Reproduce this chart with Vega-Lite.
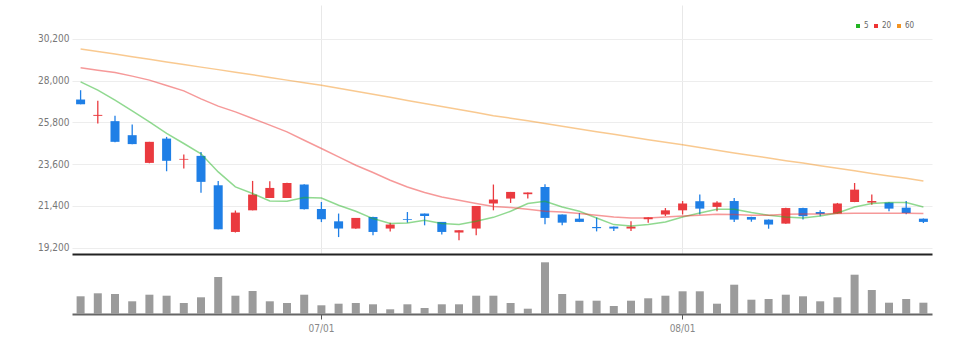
{
  "$schema": "https://vega.github.io/schema/vega-lite/v6.json",
  "padding": {"left": 0, "top": 5, "right": 5, "bottom": 5},
  "background": "white",
  "spacing": 4,
  "config": {"view": {"stroke": null}, "font": "Liberation Sans Narrow, DejaVu Sans Condensed, sans-serif"},
  "resolve": {"scale": {"y": "independent"}},
  "data": {"values": [
    {"d":"06/13","o":27010,"h":27500,"l":26760,"c":26760,"v":177000,"ma5":27942,"ma20":28681,"ma60":29667},
    {"d":"06/14","o":26150,"h":26940,"l":25750,"c":26200,"v":207000,"ma5":27504,"ma20":28559,"ma60":29535},
    {"d":"06/15","o":25870,"h":26150,"l":24760,"c":24780,"v":200000,"ma5":26977,"ma20":28438,"ma60":29404},
    {"d":"06/16","o":25130,"h":25700,"l":24650,"c":24660,"v":127000,"ma5":26412,"ma20":28243,"ma60":29261},
    {"d":"06/17","o":23670,"h":24780,"l":23650,"c":24780,"v":193000,"ma5":25832,"ma20":28032,"ma60":29129},
    {"d":"06/20","o":24950,"h":25040,"l":23230,"c":23780,"v":183000,"ma5":25220,"ma20":27752,"ma60":28992},
    {"d":"06/21","o":23840,"h":24110,"l":23370,"c":23880,"v":110000,"ma5":24692,"ma20":27467,"ma60":28855},
    {"d":"06/22","o":24040,"h":24250,"l":22100,"c":22670,"v":167000,"ma5":24150,"ma20":27045,"ma60":28718},
    {"d":"06/23","o":22490,"h":22720,"l":20170,"c":20170,"v":370000,"ma5":23194,"ma20":26660,"ma60":28586},
    {"d":"06/24","o":20030,"h":21160,"l":20000,"c":21050,"v":183000,"ma5":22403,"ma20":26359,"ma60":28449},
    {"d":"06/27","o":21170,"h":22720,"l":21170,"c":22000,"v":230000,"ma5":22054,"ma20":26011,"ma60":28317},
    {"d":"06/28","o":21820,"h":22700,"l":21820,"c":22350,"v":127000,"ma5":21664,"ma20":25658,"ma60":28169},
    {"d":"06/29","o":21820,"h":22620,"l":21820,"c":22610,"v":110000,"ma5":21648,"ma20":25304,"ma60":28032},
    {"d":"06/30","o":22530,"h":22540,"l":21220,"c":21230,"v":193000,"ma5":21843,"ma20":24866,"ma60":27900},
    {"d":"07/01","o":21240,"h":21610,"l":20550,"c":20700,"v":87000,"ma5":21822,"ma20":24428,"ma60":27768},
    {"d":"07/04","o":20590,"h":21000,"l":19760,"c":20210,"v":103000,"ma5":21437,"ma20":23985,"ma60":27599},
    {"d":"07/05","o":20210,"h":20770,"l":20200,"c":20770,"v":110000,"ma5":21120,"ma20":23547,"ma60":27441},
    {"d":"07/06","o":20820,"h":20830,"l":19850,"c":20030,"v":97000,"ma5":20735,"ma20":23162,"ma60":27283},
    {"d":"07/07","o":20210,"h":20520,"l":20060,"c":20420,"v":47000,"ma5":20471,"ma20":22756,"ma60":27124},
    {"d":"07/08","o":20710,"h":21080,"l":20520,"c":20670,"v":97000,"ma5":20503,"ma20":22403,"ma60":26961},
    {"d":"07/11","o":21000,"h":21000,"l":20380,"c":20870,"v":60000,"ma5":20645,"ma20":22107,"ma60":26802},
    {"d":"07/12","o":20560,"h":20560,"l":19900,"c":20030,"v":97000,"ma5":20471,"ma20":21875,"ma60":26644},
    {"d":"07/13","o":20000,"h":20120,"l":19590,"c":20120,"v":97000,"ma5":20418,"ma20":21700,"ma60":26486},
    {"d":"07/14","o":20210,"h":21400,"l":19850,"c":21400,"v":183000,"ma5":20593,"ma20":21526,"ma60":26322},
    {"d":"07/15","o":21530,"h":22530,"l":21170,"c":21740,"v":183000,"ma5":20800,"ma20":21370,"ma60":26159},
    {"d":"07/18","o":21790,"h":22140,"l":21560,"c":22140,"v":110000,"ma5":21120,"ma20":21315,"ma60":26027},
    {"d":"07/19","o":22020,"h":22110,"l":21790,"c":22110,"v":53000,"ma5":21526,"ma20":21226,"ma60":25890},
    {"d":"07/20","o":22400,"h":22550,"l":20430,"c":20770,"v":517000,"ma5":21648,"ma20":21120,"ma60":25747},
    {"d":"07/21","o":20950,"h":20950,"l":20380,"c":20520,"v":200000,"ma5":21346,"ma20":21083,"ma60":25600},
    {"d":"07/22","o":20730,"h":21030,"l":20550,"c":20560,"v":133000,"ma5":21120,"ma20":21000,"ma60":25457},
    {"d":"07/25","o":20290,"h":20790,"l":20060,"c":20230,"v":133000,"ma5":20767,"ma20":20910,"ma60":25315},
    {"d":"07/26","o":20310,"h":20320,"l":20080,"c":20210,"v":80000,"ma5":20418,"ma20":20820,"ma60":25177},
    {"d":"07/27","o":20210,"h":20600,"l":20080,"c":20310,"v":133000,"ma5":20345,"ma20":20767,"ma60":25035},
    {"d":"07/28","o":20700,"h":20810,"l":20520,"c":20800,"v":157000,"ma5":20418,"ma20":20767,"ma60":24893},
    {"d":"07/29","o":20950,"h":21290,"l":20870,"c":21170,"v":183000,"ma5":20556,"ma20":20820,"ma60":24755},
    {"d":"08/01","o":21170,"h":21660,"l":20950,"c":21530,"v":227000,"ma5":20820,"ma20":20873,"ma60":24623},
    {"d":"08/02","o":21650,"h":22000,"l":20950,"c":21260,"v":227000,"ma5":21030,"ma20":20910,"ma60":24476},
    {"d":"08/03","o":21350,"h":21650,"l":21120,"c":21580,"v":103000,"ma5":21226,"ma20":20962,"ma60":24339},
    {"d":"08/04","o":21660,"h":21820,"l":20560,"c":20680,"v":293000,"ma5":21226,"ma20":20946,"ma60":24191},
    {"d":"08/05","o":20820,"h":20830,"l":20570,"c":20680,"v":143000,"ma5":21052,"ma20":20910,"ma60":24059},
    {"d":"08/08","o":20680,"h":20690,"l":20200,"c":20420,"v":150000,"ma5":20910,"ma20":20910,"ma60":23927},
    {"d":"08/09","o":20470,"h":21300,"l":20460,"c":21290,"v":193000,"ma5":20820,"ma20":20962,"ma60":23785},
    {"d":"08/10","o":21290,"h":21300,"l":20680,"c":20860,"v":177000,"ma5":20767,"ma20":20978,"ma60":23663},
    {"d":"08/11","o":21080,"h":21170,"l":20860,"c":20980,"v":127000,"ma5":20873,"ma20":20978,"ma60":23521},
    {"d":"08/12","o":21000,"h":21560,"l":21000,"c":21530,"v":167000,"ma5":21030,"ma20":21000,"ma60":23389},
    {"d":"08/16","o":21610,"h":22610,"l":21600,"c":22260,"v":393000,"ma5":21346,"ma20":21010,"ma60":23257},
    {"d":"08/17","o":21580,"h":22000,"l":21470,"c":21660,"v":240000,"ma5":21526,"ma20":21010,"ma60":23115},
    {"d":"08/18","o":21580,"h":21590,"l":21120,"c":21260,"v":113000,"ma5":21579,"ma20":21010,"ma60":22983},
    {"d":"08/19","o":21310,"h":21660,"l":20960,"c":21030,"v":150000,"ma5":21579,"ma20":21010,"ma60":22856},
    {"d":"08/22","o":20730,"h":20740,"l":20500,"c":20560,"v":113000,"ma5":21346,"ma20":21000,"ma60":22719}
  ]},
  "vconcat": [
    {
      "width": 860,
      "height": 249,
      "layer": [
        {
          "mark": {"type": "rule", "strokeWidth": 1.3},
          "encoding": {
            "x": {"field": "d", "type": "ordinal", "sort": null, "scale": {"paddingInner": 0, "paddingOuter": 0},
                  "axis": {"values": ["07/01", "08/01"], "labels": false, "ticks": false, "grid": true, "gridColor": "#e8e8e8", "domainColor": "#222222", "domainWidth": 2, "title": null, "bandPosition": 0.5}},
            "y": {"field": "l", "type": "quantitative", "scale": {"zero": false, "nice": false, "domain": [18868, 31992]},
                  "axis": {"values": [19200, 21400, 23600, 25800, 28000, 30200], "format": ",d", "title": null, "domain": false, "ticks": false, "labelPadding": 3, "gridColor": "#ededed", "labelColor": "#777777", "labelFontSize": 10, "minExtent": 72, "maxExtent": 72}},
            "y2": {"field": "h"},
            "color": {"condition": {"test": "datum.c >= datum.o", "value": "#ea3a3f"}, "value": "#1f7fe6"}
          }
        },
        {
          "mark": {"type": "bar", "width": 9},
          "encoding": {
            "x": {"field": "d", "type": "ordinal", "sort": null},
            "y": {"field": "o", "type": "quantitative"},
            "y2": {"field": "c"},
            "color": {"condition": {"test": "datum.c >= datum.o", "value": "#ea3a3f"}, "value": "#1f7fe6"}
          }
        },
        {
          "transform": [{"fold": ["ma5", "ma20", "ma60"], "as": ["ma", "val"]}],
          "mark": {"type": "line", "strokeWidth": 1.5, "opacity": 0.5},
          "encoding": {
            "x": {"field": "d", "type": "ordinal", "sort": null},
            "y": {"field": "val", "type": "quantitative"},
            "color": {"field": "ma", "type": "nominal",
                      "scale": {"domain": ["ma5", "ma20", "ma60"], "range": ["#22b422", "#ee3333", "#f39422"]},
                      "legend": {"orient": "top-right", "direction": "horizontal", "title": null, "symbolType": "square", "symbolSize": 16, "symbolStrokeWidth": 0, "symbolOpacity": 1, "labelFontSize": 8, "labelColor": "#666666", "offset": 17, "columnPadding": 3, "labelOffset": 2, "gridAlign": "none",
                                 "labelExpr": "replace(datum.label, 'ma', '')",
                                 "encode": {"symbols": {"update": {"fill": {"scale": "color", "field": "value"}, "opacity": {"value": 1}}}}}}
          }
        }
      ]
    },
    {
      "width": 860,
      "height": 56,
      "mark": {"type": "bar", "width": 8, "color": "#9b9b9b"},
      "encoding": {
        "x": {"field": "d", "type": "ordinal", "sort": null, "scale": {"paddingInner": 0, "paddingOuter": 0},
              "axis": {"values": ["07/01", "08/01"], "title": null, "domainColor": "#666666", "domainWidth": 2, "tickColor": "#555555", "tickSize": 5, "labelColor": "#888888", "labelFontSize": 10, "labelPadding": 4, "labelAngle": 0, "grid": false, "bandPosition": 0.5}},
        "y": {"field": "v", "type": "quantitative", "scale": {"domain": [0, 560000]}, "axis": null}
      }
    }
  ]
}
